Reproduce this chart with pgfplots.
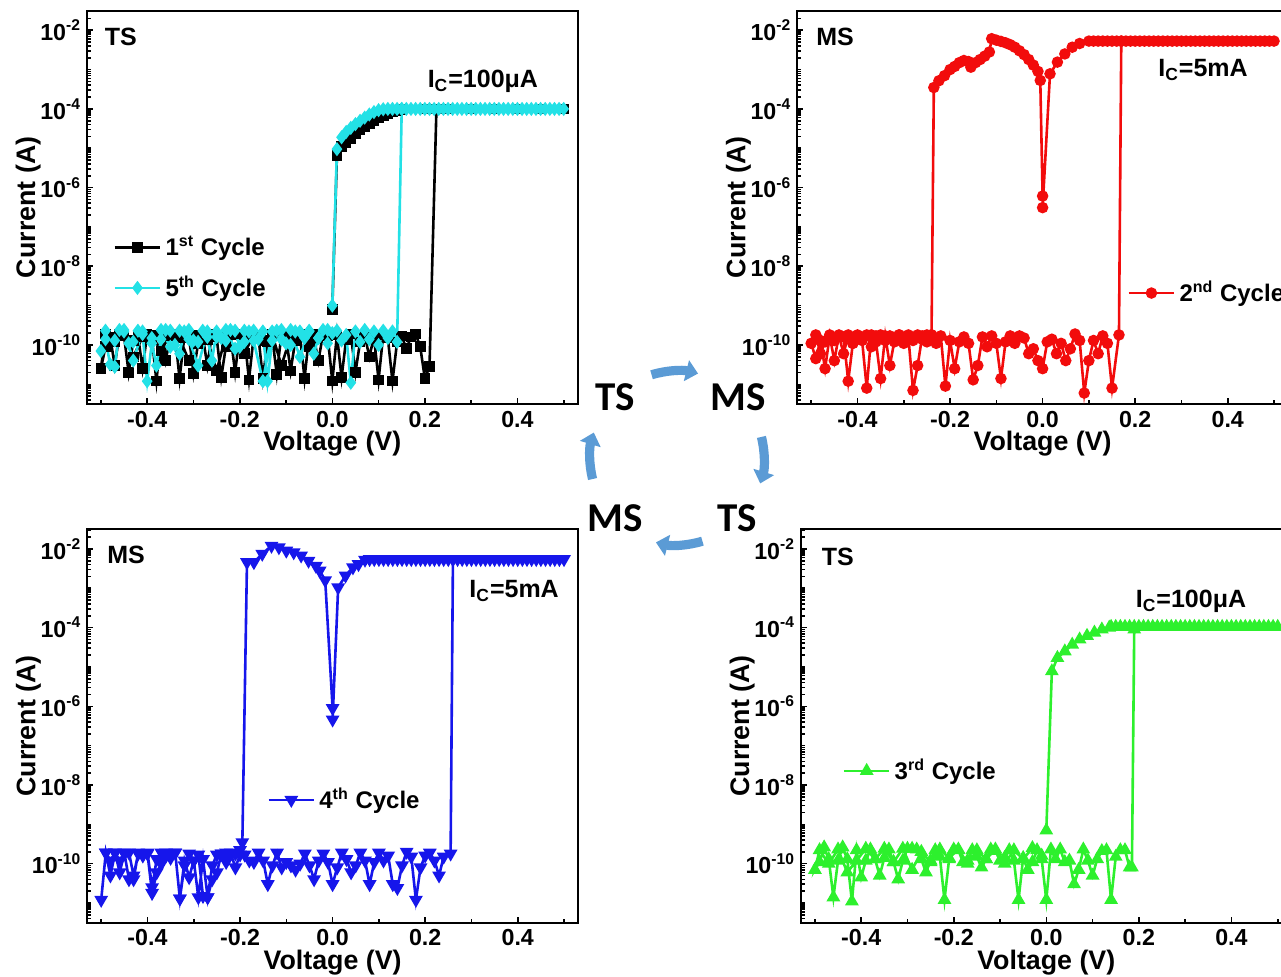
\documentclass[border=0pt]{standalone}
\usepackage{fontspec}
\setmainfont{Liberation Sans}
\newfontfamily\carlito{Carlito}
\usepackage{pgfplots}
\pgfplotsset{compat=1.18}
\usetikzlibrary{arrows.meta}

\definecolor{cyanc}{RGB}{35,225,230}
\definecolor{redc}{RGB}{242,12,12}
\definecolor{bluec}{RGB}{22,22,235}
\definecolor{greenc}{RGB}{45,240,45}
\definecolor{arrowc}{RGB}{91,155,213}

\newcommand{\panelfont}{\fontsize{12.5}{14}\selectfont\bfseries}
\newcommand{\tp}[1]{10\raisebox{0.8ex}{\fontsize{7.8}{8}\selectfont#1}}

% shared settings for the four panels (ymode is given in each axis)
\pgfplotsset{
  width=245.3pt, height=196.7pt, scale only axis,
  xmin=-0.53, xmax=0.53,
  xtick={-0.4,-0.2,0,0.2,0.4},
  xticklabels={-0.4,-0.2,0.0,0.2,0.4},
  minor xtick={-0.5,-0.3,-0.1,0.1,0.3,0.5},
  xtick pos=left, ytick pos=left,
  major tick length=3pt, minor tick length=1.8pt,
  every tick/.style={black, line width=0.8pt},
  axis line style={line width=1pt},
  tick label style={font=\fontsize{11.6}{12}\selectfont\bfseries},
  label style={font=\fontsize{13.4}{15}\selectfont\bfseries},
  xlabel={Voltage (V)}, ylabel={Current (A)},
  xlabel style={at={(axis description cs:0.5,-0.101)}, anchor=center},
  ylabel style={at={(axis description cs:-0.12,0.5)}, anchor=center},
  legend cell align=left,
  legend style={draw=none, fill=none, anchor=west, inner sep=0pt, row sep=5pt,
    font=\fontsize{12}{14}\selectfont\bfseries},
  legend image code/.code={\draw[mark repeat=2,mark phase=2] plot coordinates {(0cm,0cm) (0.4cm,0cm) (0.8cm,0cm)};},
  cy/.style={#1, line width=1.3pt, mark options={solid, fill=#1}},
  logy/.style={
    ytick={1e-10,1e-8,1e-6,1e-4,1e-2},
    yticklabels={\tp{-10},\tp{-8},\tp{-6},\tp{-4},\tp{-2}},
    minor ytick={4e-12,5e-12,6e-12,7e-12,8e-12,9e-12,1e-11,2e-11,3e-11,4e-11,5e-11,6e-11,7e-11,8e-11,9e-11,
      2e-10,3e-10,4e-10,5e-10,6e-10,7e-10,8e-10,9e-10,1e-9,2e-9,3e-9,4e-9,5e-9,6e-9,7e-9,8e-9,9e-9,
      2e-8,3e-8,4e-8,5e-8,6e-8,7e-8,8e-8,9e-8,1e-7,2e-7,3e-7,4e-7,5e-7,6e-7,7e-7,8e-7,9e-7,
      2e-6,3e-6,4e-6,5e-6,6e-6,7e-6,8e-6,9e-6,1e-5,2e-5,3e-5,4e-5,5e-5,6e-5,7e-5,8e-5,9e-5,
      2e-4,3e-4,4e-4,5e-4,6e-4,7e-4,8e-4,9e-4,1e-3,2e-3,3e-3,4e-3,5e-3,6e-3,7e-3,8e-3,9e-3,2e-2,3e-2},
  },
}

\begin{document}
\begin{tikzpicture}
\useasboundingbox (0,0) rectangle (640.5pt,488.5pt);
\clip (0,0) rectangle (640.5pt,488.5pt);

% top left: TS, 1st and 5th cycle
\begin{axis}[ymode=log, ymin=3.16e-12, ymax=3.16e-2, logy,
  at={(43.5pt,286.5pt)}, anchor=south west,
  legend style={at={(axis description cs:0.053,0.346)}}]
\addplot[cy=black, mark=square*, mark size=2pt] coordinates {
(0.00,8e-10) (0.01,6.5e-6) (0.02,1.1e-5) (0.03,1.4e-5) (0.04,1.8e-5) (0.05,2.3e-5) (0.06,2.9e-5)
(0.07,3.5e-5) (0.08,4.3e-5) (0.09,5e-5) (0.10,6e-5) (0.11,6.8e-5) (0.12,7.5e-5) (0.13,8.5e-5)
(0.14,9.2e-5) (0.15,9.7e-5) (0.20,1e-4) (0.25,1e-4) (0.30,1e-4) (0.35,1e-4) (0.40,1e-4) (0.45,1e-4)
(0.50,1e-4) (0.225,1e-4) (0.21,2.8e-11)
(0.20,1.4e-11) (0.19,9e-11) (0.18,1.9e-10) (0.17,1.6e-10) (0.16,8e-11) (0.15,1.7e-10) (0.14,1.2e-10)
(0.13,1.2e-11) (0.12,1.5e-10) (0.11,1.8e-10) (0.10,1.3e-11) (0.09,1.6e-10) (0.08,5e-11) (0.07,1.8e-10)
(0.06,1.2e-10) (0.05,2e-11) (0.04,1.9e-10) (0.03,1.4e-10) (0.02,1.5e-11) (0.01,1.8e-10) (0.00,1.2e-11)
(-0.01,1.7e-10) (-0.02,1.9e-10) (-0.03,4e-11) (-0.04,1.5e-10) (-0.05,1.8e-10) (-0.06,1.4e-11)
(-0.07,1.9e-10) (-0.08,1.3e-10) (-0.09,2.2e-11) (-0.10,1.6e-10) (-0.11,1.8e-10) (-0.12,1.8e-11)
(-0.13,1.7e-10) (-0.14,1.2e-10) (-0.15,1.4e-11) (-0.16,1.8e-10) (-0.17,1.6e-10) (-0.18,1.3e-11)
(-0.19,1.7e-10) (-0.20,1.9e-10) (-0.21,2e-11) (-0.22,1.8e-10) (-0.23,9e-11) (-0.24,1.5e-11)
(-0.25,1.6e-10) (-0.26,1.9e-10) (-0.27,3e-11) (-0.28,1.7e-10) (-0.29,1.1e-10) (-0.30,1.9e-11)
(-0.31,1.8e-10) (-0.32,1.5e-10) (-0.33,1.4e-11) (-0.34,1.9e-10) (-0.35,1.7e-10) (-0.36,4e-11)
(-0.37,1.8e-10) (-0.38,1.2e-11) (-0.39,1.6e-10) (-0.40,1.9e-10) (-0.41,2.5e-11) (-0.42,1.8e-10)
(-0.43,1.3e-10) (-0.44,2e-11) (-0.45,1.7e-10) (-0.46,1.9e-10) (-0.47,3e-11) (-0.48,1.6e-10)
(-0.49,9e-11) (-0.50,2.5e-11)
(-0.49,1.9e-10) (-0.47,1.2e-10) (-0.45,1.8e-10) (-0.43,5e-11) (-0.41,1.6e-10) (-0.39,1.8e-10)
(-0.37,7e-11) (-0.35,1.9e-10) (-0.33,1.5e-10) (-0.31,4e-11) (-0.29,1.8e-10) (-0.27,1.4e-10)
(-0.25,2.2e-11) (-0.23,1.7e-10) (-0.21,1.9e-10) (-0.19,6e-11) (-0.17,1.8e-10) (-0.15,1.3e-10)
(-0.13,1.9e-10) (-0.11,3e-11) (-0.09,1.6e-10) (-0.07,1.8e-10) (-0.05,9e-11) (-0.03,1.9e-10) (-0.01,1.7e-10)
};
\addlegendentry{1\textsuperscript{st} Cycle}
\addplot[cy=cyanc, mark=diamond*, mark size=2.5pt] coordinates {
(0.00,1e-9) (0.01,9.5e-6) (0.02,1.9e-5) (0.03,2.6e-5) (0.04,3.3e-5) (0.05,4.1e-5) (0.06,5e-5)
(0.07,6e-5) (0.08,7.2e-5) (0.09,8.3e-5) (0.10,9.3e-5) (0.11,9.8e-5) (0.12,1e-4) (0.13,1e-4)
(0.14,1e-4) (0.15,1e-4) (0.16,1e-4) (0.17,1e-4) (0.18,1e-4) (0.19,1e-4) (0.20,1e-4) (0.21,1e-4)
(0.22,1e-4) (0.23,1e-4) (0.24,1e-4) (0.25,1e-4) (0.26,1e-4) (0.27,1e-4) (0.28,1e-4) (0.29,1e-4)
(0.30,1e-4) (0.31,1e-4) (0.32,1e-4) (0.33,1e-4) (0.34,1e-4) (0.35,1e-4) (0.36,1e-4) (0.37,1e-4)
(0.38,1e-4) (0.39,1e-4) (0.40,1e-4) (0.41,1e-4) (0.42,1e-4) (0.43,1e-4) (0.44,1e-4) (0.45,1e-4)
(0.46,1e-4) (0.47,1e-4) (0.48,1e-4) (0.49,1e-4) (0.50,1e-4) (0.15,1e-4) (0.14,1.2e-10)
(0.13,2.2e-10) (0.12,1.5e-10) (0.11,2.3e-10) (0.10,1e-10) (0.09,2.2e-10) (0.08,1.4e-10) (0.07,2.4e-10)
(0.06,1.2e-10) (0.05,2.2e-10) (0.04,1.1e-11) (0.03,1.8e-10) (0.02,1.3e-10) (0.01,2.3e-10) (0.00,2e-10)
(-0.01,1.1e-10) (-0.02,2.4e-10) (-0.03,1.5e-10) (-0.04,6e-11) (-0.05,2.3e-10) (-0.06,1.5e-10)
(-0.07,2.2e-10) (-0.08,2.2e-10) (-0.09,1e-10) (-0.10,1.1e-10) (-0.11,2.4e-10) (-0.12,2.3e-10)
(-0.13,1.3e-10) (-0.14,1.2e-11) (-0.15,2.2e-10) (-0.16,1.4e-10) (-0.17,2.3e-10) (-0.18,2.2e-10)
(-0.19,1.2e-10) (-0.20,9e-11) (-0.21,2.3e-10) (-0.22,2.4e-10) (-0.23,1.3e-10) (-0.24,1.5e-10)
(-0.25,2.2e-10) (-0.26,4e-11) (-0.27,1.6e-10) (-0.28,2.3e-10) (-0.29,1.2e-10) (-0.30,1.3e-10)
(-0.31,2.4e-10) (-0.32,2.2e-10) (-0.33,6e-11) (-0.34,1e-10) (-0.35,2.3e-10) (-0.36,2.4e-10)
(-0.37,1.4e-10) (-0.38,3e-11) (-0.39,1.1e-10) (-0.40,1.2e-11) (-0.41,1.9e-10) (-0.42,2.3e-10)
(-0.43,1.2e-10) (-0.44,1.1e-10) (-0.45,2.2e-10) (-0.46,2.4e-10) (-0.47,2.8e-11) (-0.48,3.2e-11)
(-0.49,1.4e-10) (-0.50,7e-11)
(-0.49,2.3e-10) (-0.47,1.3e-10) (-0.45,2.4e-10) (-0.43,4e-11) (-0.41,2.2e-10) (-0.39,1.5e-10)
(-0.37,2.4e-10) (-0.35,9e-11) (-0.33,2.3e-10) (-0.31,1.4e-10) (-0.29,3e-11) (-0.27,2.2e-10)
(-0.25,1.6e-10) (-0.23,2.4e-10) (-0.21,8e-11) (-0.19,2.3e-10) (-0.17,1.3e-10) (-0.15,1.2e-11)
(-0.13,2.2e-10) (-0.11,1.4e-10) (-0.09,2.4e-10) (-0.07,5e-11) (-0.05,2.2e-10) (-0.03,1.5e-10) (-0.01,2.4e-10)
};
\addlegendentry{5\textsuperscript{th} Cycle}
\node[font=\panelfont] at (axis description cs:0.069,0.933) {TS};
\node[font=\panelfont] at (axis description cs:0.807,0.819) {I\textsubscript{C}=100μA};
\end{axis}

% top right: MS, 2nd cycle
\begin{axis}[ymode=log, ymin=3.16e-12, ymax=3.16e-2, logy,
  at={(398.65pt,286.5pt)}, anchor=south west,
  legend style={at={(axis description cs:0.672,0.282)}}]
\addplot[cy=redc, mark=*, mark size=2.2pt] coordinates {
(0.00,3.1e-7) (0.016,7.8e-4) (0.032,1.55e-3) (0.048,2.5e-3) (0.064,3.7e-3) (0.08,4.6e-3) (0.10,5.3e-3)
(0.11,5.3e-3) (0.12,5.3e-3) (0.13,5.3e-3) (0.14,5.3e-3) (0.15,5.3e-3) (0.16,5.3e-3) (0.17,5.3e-3)
(0.18,5.3e-3) (0.19,5.3e-3) (0.20,5.3e-3) (0.21,5.3e-3) (0.22,5.3e-3) (0.23,5.3e-3) (0.24,5.3e-3)
(0.25,5.3e-3) (0.26,5.3e-3) (0.27,5.3e-3) (0.28,5.3e-3) (0.29,5.3e-3) (0.30,5.3e-3) (0.31,5.3e-3)
(0.32,5.3e-3) (0.33,5.3e-3) (0.34,5.3e-3) (0.35,5.3e-3) (0.36,5.3e-3) (0.37,5.3e-3) (0.38,5.3e-3)
(0.39,5.3e-3) (0.40,5.3e-3) (0.41,5.3e-3) (0.42,5.3e-3) (0.43,5.3e-3) (0.44,5.3e-3) (0.45,5.3e-3)
(0.46,5.3e-3) (0.47,5.3e-3) (0.48,5.3e-3) (0.49,5.3e-3) (0.50,5.3e-3) (0.17,5.3e-3) (0.165,1.8e-10)
(0.15,8e-12) (0.14,1.1e-10) (0.13,1.7e-10) (0.12,6e-11) (0.11,1.3e-10) (0.10,4e-11) (0.09,6e-12)
(0.08,1.3e-10) (0.07,1.9e-10) (0.06,8e-11) (0.05,4e-11) (0.04,1.1e-10) (0.03,6e-11) (0.02,1.4e-10)
(0.01,1.2e-10) (0.00,2.5e-11) (-0.01,4e-11) (-0.02,8e-11) (-0.03,6e-11) (-0.04,1.5e-10) (-0.05,1.7e-10)
(-0.06,1.1e-10) (-0.07,1.7e-10) (-0.08,1.2e-10) (-0.09,1.4e-11) (-0.10,1.1e-10) (-0.11,1.7e-10)
(-0.12,9e-11) (-0.13,1.6e-10) (-0.14,3e-11) (-0.15,1.3e-11) (-0.16,1.1e-10) (-0.17,1.6e-10)
(-0.18,1.2e-10) (-0.19,2.5e-11) (-0.20,1.3e-10) (-0.21,9e-12) (-0.22,1.7e-10) (-0.23,1.1e-10)
(-0.24,1.8e-10) (-0.25,1.2e-10) (-0.26,1.7e-10) (-0.27,3e-11) (-0.28,7e-12) (-0.29,1.6e-10)
(-0.30,1.1e-10) (-0.31,1.8e-10) (-0.32,1.3e-10) (-0.33,3e-11) (-0.34,1.7e-10) (-0.35,1.4e-11)
(-0.36,1.2e-10) (-0.37,1.8e-10) (-0.38,8e-12) (-0.39,1.3e-10) (-0.40,1.7e-10) (-0.41,1.1e-10)
(-0.42,1.2e-11) (-0.43,1.6e-10) (-0.44,1.8e-10) (-0.45,4e-11) (-0.46,1.7e-10) (-0.47,2.5e-11)
(-0.48,1.3e-10) (-0.49,4.5e-11) (-0.50,1.1e-10)
(-0.49,1.8e-10) (-0.48,6e-11) (-0.47,1.2e-10) (-0.46,1.8e-10) (-0.45,1.3e-10) (-0.44,1.7e-10)
(-0.43,6e-11) (-0.42,1.8e-10) (-0.41,1.1e-10) (-0.40,1.8e-10) (-0.39,1.5e-10) (-0.38,1.8e-10)
(-0.37,9e-11) (-0.36,1.7e-10) (-0.35,1.8e-10) (-0.34,1.3e-10) (-0.33,1.7e-10) (-0.32,1.2e-10)
(-0.31,1.8e-10) (-0.30,1.5e-10) (-0.29,1.8e-10) (-0.28,1.3e-10) (-0.27,1.8e-10) (-0.26,1.4e-10)
(-0.25,1.8e-10) (-0.24,1.8e-10)
(-0.235,3.5e-4) (-0.224,5.2e-4) (-0.212,7e-4) (-0.20,1e-3) (-0.19,1.2e-3) (-0.18,1.5e-3)
(-0.17,1.7e-3) (-0.16,1.6e-3) (-0.155,1.15e-3) (-0.145,1.5e-3) (-0.135,1.8e-3) (-0.125,2.2e-3)
(-0.115,2.8e-3) (-0.11,6.1e-3) (-0.10,5.6e-3) (-0.09,5.2e-3) (-0.08,4.8e-3) (-0.07,4.3e-3)
(-0.06,3.7e-3) (-0.05,3e-3) (-0.04,2.4e-3) (-0.03,1.8e-3) (-0.02,1.3e-3) (-0.01,9e-4)
(-0.005,5.3e-4) (0.0,6.1e-7)
};
\addlegendentry{2\textsuperscript{nd} Cycle}
\node[font=\panelfont] at (axis description cs:0.077,0.933) {MS};
\node[font=\panelfont] at (axis description cs:0.827,0.849) {I\textsubscript{C}=5mA};
\end{axis}

% bottom left: MS, 4th cycle
\begin{axis}[ymode=log, ymin=3.16e-12, ymax=3.16e-2, logy,
  at={(43.65pt,27.15pt)}, anchor=south west,
  legend style={at={(axis description cs:0.366,0.312)}}]
\addplot[cy=bluec, mark=triangle*, mark size=2.7pt, mark options={rotate=180}] coordinates {
(0.0,4.6e-7) (0.012,1.05e-3) (0.028,2.1e-3) (0.044,3.4e-3) (0.056,4.1e-3) (0.07,5.3e-3) (0.08,5.5e-3)
(0.09,5.5e-3) (0.10,5.5e-3) (0.11,5.5e-3) (0.12,5.5e-3) (0.13,5.5e-3) (0.14,5.5e-3) (0.15,5.5e-3)
(0.16,5.5e-3) (0.17,5.5e-3) (0.18,5.5e-3) (0.19,5.5e-3) (0.20,5.5e-3) (0.21,5.5e-3) (0.22,5.5e-3)
(0.23,5.5e-3) (0.24,5.5e-3) (0.25,5.5e-3) (0.26,5.5e-3) (0.27,5.5e-3) (0.28,5.5e-3) (0.29,5.5e-3)
(0.30,5.5e-3) (0.31,5.5e-3) (0.32,5.5e-3) (0.33,5.5e-3) (0.34,5.5e-3) (0.35,5.5e-3) (0.36,5.5e-3)
(0.37,5.5e-3) (0.38,5.5e-3) (0.39,5.5e-3) (0.40,5.5e-3) (0.41,5.5e-3) (0.42,5.5e-3) (0.43,5.5e-3)
(0.44,5.5e-3) (0.45,5.5e-3) (0.46,5.5e-3) (0.47,5.5e-3) (0.48,5.5e-3) (0.49,5.5e-3) (0.50,5.5e-3)
(0.26,5.5e-3) (0.255,1.8e-10)
(0.24,1.5e-10) (0.23,5e-11) (0.22,1.2e-10) (0.21,1.9e-10) (0.20,1.6e-10) (0.19,8e-11) (0.18,1.2e-11)
(0.17,1.5e-10) (0.16,2e-10) (0.15,9e-11) (0.14,2.4e-11) (0.13,3e-11) (0.12,1.6e-10) (0.11,1.2e-10)
(0.10,1.9e-10) (0.09,1.1e-10) (0.08,3e-11) (0.07,1.2e-10) (0.06,1.9e-10) (0.05,9e-11) (0.04,6e-11)
(0.03,1.3e-10) (0.02,1.9e-10) (0.01,8e-11) (0.00,3e-11) (-0.01,1.1e-10) (-0.02,1.8e-10) (-0.03,1.2e-10)
(-0.04,4e-11) (-0.05,9e-11) (-0.06,1.8e-10) (-0.07,1e-10) (-0.08,7e-11) (-0.09,9e-11) (-0.10,1.1e-10)
(-0.11,8e-11) (-0.12,1.9e-10) (-0.13,9e-11) (-0.14,3e-11) (-0.15,1.2e-10) (-0.16,1.9e-10) (-0.17,1.1e-10)
(-0.18,1.2e-10) (-0.19,1.7e-10) (-0.20,2.2e-10) (-0.21,1.8e-10) (-0.22,1.9e-10) (-0.23,1.1e-10)
(-0.24,1.8e-10) (-0.25,6e-11) (-0.26,4e-11) (-0.27,1.4e-11) (-0.28,1.5e-11) (-0.29,1.7e-10)
(-0.30,1.2e-10) (-0.31,4.5e-11) (-0.32,1.2e-10) (-0.33,1.3e-11) (-0.34,1.9e-10) (-0.35,1.6e-10)
(-0.36,1.9e-10) (-0.37,1e-10) (-0.38,6e-11) (-0.39,1.8e-11) (-0.40,1.8e-10) (-0.41,1.7e-10)
(-0.42,1.9e-10) (-0.43,4e-11) (-0.44,4e-11) (-0.45,1.9e-10) (-0.46,1.2e-10) (-0.47,1.9e-10)
(-0.48,5e-11) (-0.49,1.9e-10) (-0.50,1.2e-11)
(-0.49,1.9e-10) (-0.48,1.2e-10) (-0.47,1.9e-10) (-0.46,6e-11) (-0.45,1.8e-10) (-0.44,1.9e-10)
(-0.43,5e-11) (-0.42,1.8e-10) (-0.41,1.6e-10) (-0.40,1.9e-10) (-0.39,2.5e-11) (-0.38,1.3e-10)
(-0.37,1.9e-10) (-0.36,1.6e-10) (-0.35,1.4e-10) (-0.34,1.9e-10) (-0.33,1.3e-11) (-0.32,9e-11)
(-0.31,1.8e-10) (-0.30,1.2e-10) (-0.29,1.4e-11) (-0.28,1.3e-10) (-0.27,1.4e-11) (-0.26,9e-11)
(-0.25,1.7e-10) (-0.24,1.8e-10) (-0.23,1.9e-10) (-0.22,1.8e-10) (-0.21,8e-11) (-0.20,1.7e-10)
(-0.195,3.5e-10)
(-0.185,4.6e-3) (-0.17,4.6e-3) (-0.152,7.5e-3) (-0.132,1.2e-2) (-0.116,1.1e-2) (-0.10,9e-3)
(-0.084,8.2e-3) (-0.068,6.8e-3) (-0.052,5e-3) (-0.036,3.7e-3) (-0.028,2.8e-3) (-0.016,1.6e-3) (0.0,9e-7)
};
\addlegendentry{4\textsuperscript{th} Cycle}
\node[font=\panelfont] at (axis description cs:0.079,0.935) {MS};
\node[font=\panelfont] at (axis description cs:0.870,0.843) {I\textsubscript{C}=5mA};
\end{axis}

% bottom right: TS, 3rd cycle
\begin{axis}[ymode=log, ymin=3.16e-12, ymax=3.16e-2, logy,
  at={(400.5pt,27.15pt)}, anchor=south west,
  legend style={at={(axis description cs:0.084,0.386)}}]
\addplot[cy=greenc, mark=triangle*, mark size=2.7pt] coordinates {
(0.0,7e-10) (0.012,7.8e-6) (0.024,1.7e-5) (0.04,2.5e-5) (0.056,3.7e-5) (0.072,5e-5) (0.088,6.2e-5)
(0.104,7.5e-5) (0.12,9e-5) (0.136,1e-4) (0.14,1.05e-4) (0.15,1.05e-4) (0.16,1.05e-4) (0.17,1.05e-4)
(0.18,1.05e-4) (0.19,1.05e-4) (0.20,1.05e-4) (0.21,1.05e-4) (0.22,1.05e-4) (0.23,1.05e-4) (0.24,1.05e-4)
(0.25,1.05e-4) (0.26,1.05e-4) (0.27,1.05e-4) (0.28,1.05e-4) (0.29,1.05e-4) (0.30,1.05e-4) (0.31,1.05e-4)
(0.32,1.05e-4) (0.33,1.05e-4) (0.34,1.05e-4) (0.35,1.05e-4) (0.36,1.05e-4) (0.37,1.05e-4) (0.38,1.05e-4)
(0.39,1.05e-4) (0.40,1.05e-4) (0.41,1.05e-4) (0.42,1.05e-4) (0.43,1.05e-4) (0.44,1.05e-4) (0.45,1.05e-4)
(0.46,1.05e-4) (0.47,1.05e-4) (0.48,1.05e-4) (0.49,1.05e-4) (0.50,1.05e-4) (0.19,9e-5) (0.185,8e-11)
(0.18,8e-11) (0.17,2.2e-10) (0.16,2.2e-10) (0.15,1.5e-10) (0.14,1.2e-11) (0.13,2.2e-10) (0.12,2.1e-10)
(0.11,1.3e-10) (0.10,5e-11) (0.09,1.2e-10) (0.08,2.3e-10) (0.07,7e-11) (0.06,3e-11) (0.05,1.2e-10)
(0.04,1.1e-10) (0.03,2.3e-10) (0.02,1.3e-10) (0.01,2.3e-10) (0.00,1.2e-11) (-0.01,1.3e-10)
(-0.02,2.2e-10) (-0.03,1.1e-10) (-0.04,7e-11) (-0.05,1.4e-10) (-0.06,1.2e-11) (-0.07,1.2e-10)
(-0.08,2.2e-10) (-0.09,1.4e-10) (-0.10,1.2e-10) (-0.11,2.1e-10) (-0.12,2.3e-10) (-0.13,1.3e-10)
(-0.14,8e-11) (-0.15,1.5e-10) (-0.16,2.2e-10) (-0.17,1.2e-10) (-0.18,1.1e-10) (-0.19,2.2e-10)
(-0.20,2.3e-10) (-0.21,1.3e-10) (-0.22,1.2e-11) (-0.23,1.5e-10) (-0.24,2.2e-10) (-0.25,1.2e-10)
(-0.26,6e-11) (-0.27,1.3e-10) (-0.28,2.3e-10) (-0.29,2.4e-10) (-0.30,2.4e-10) (-0.31,1.2e-10)
(-0.32,4e-11) (-0.33,1.1e-10) (-0.34,2.3e-10) (-0.35,1.4e-10) (-0.36,5e-11) (-0.37,1.3e-10)
(-0.38,2.3e-10) (-0.39,1.2e-10) (-0.40,4.5e-11) (-0.41,2.2e-10) (-0.42,1.1e-11) (-0.43,1.3e-10)
(-0.44,2.6e-10) (-0.45,1.2e-10) (-0.46,1.4e-11) (-0.47,1.3e-10) (-0.48,2.6e-10) (-0.49,1.1e-10)
(-0.50,7e-11)
(-0.49,2.2e-10) (-0.47,1e-10) (-0.45,2.3e-10) (-0.43,6e-11) (-0.41,1.2e-10) (-0.39,2.4e-10)
(-0.37,1.3e-10) (-0.35,2.4e-10) (-0.33,1.1e-10) (-0.31,2.4e-10) (-0.29,7e-11) (-0.27,2e-10)
(-0.25,1.1e-10) (-0.23,2.3e-10) (-0.21,1.4e-10) (-0.19,2.3e-10) (-0.17,1e-10) (-0.15,2.2e-10)
(-0.13,1.3e-10) (-0.11,2.3e-10) (-0.09,1e-10) (-0.07,2.2e-10) (-0.05,1.3e-10) (-0.03,2.5e-10) (-0.01,1.6e-10)
};
\addlegendentry{3\textsuperscript{rd} Cycle}
\node[font=\panelfont] at (axis description cs:0.075,0.930) {TS};
\node[font=\panelfont] at (axis description cs:0.795,0.818) {I\textsubscript{C}=100μA};
\end{axis}

% switching cycle in the middle
\begin{scope}[font=\carlito\bfseries\fontsize{20.5}{22}\selectfont]
\node at (307.5pt,290pt) {TS};
\node at (369pt,290pt) {MS};
\node at (307.5pt,229.5pt) {MS};
\node at (368.5pt,229.5pt) {TS};
\end{scope}
\begin{scope}[arrowc, line width=4.6pt, -{Triangle[length=6pt,width=10.5pt]}]
\draw (338.5pt,259.5pt) ++(107:43.5pt) arc[start angle=107, end angle=76, radius=43.5pt];
\draw (338.5pt,259.5pt) ++(14:43.5pt) arc[start angle=14, end angle=-17, radius=43.5pt];
\draw (338.5pt,259.5pt) ++(-73:43.5pt) arc[start angle=-73, end angle=-104, radius=43.5pt];
\draw (338.5pt,259.5pt) ++(194:43.5pt) arc[start angle=194, end angle=163, radius=43.5pt];
\end{scope}
\end{tikzpicture}
\end{document}
